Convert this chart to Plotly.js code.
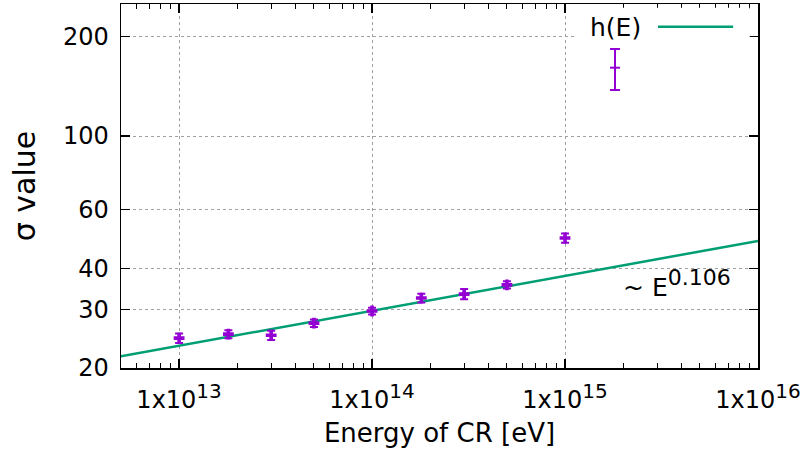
<!DOCTYPE html>
<html>
<head>
<meta charset="utf-8">
<script src="https://cdn.plot.ly/plotly-3.0.1.min.js"></script>
<style>
  html, body { margin: 0; padding: 0; background: #fff; }
  #chart { width: 809px; height: 455px; }
</style>
</head>
<body>
<div id="chart"></div>
<script>
// Measured sigma values versus cosmic-ray energy
const energy = [1e13, 1.8e13, 3e13, 5e13, 1e14, 1.8e14, 3e14, 5e14, 1e15];
const sigma  = [24.6, 25.3, 25.1, 27.3, 29.7, 32.5, 33.4, 35.6, 49.3];
const sigmaErr = [0.8, 0.7, 0.8, 0.7, 0.7, 1.0, 1.2, 0.9, 1.6];

// Power-law fit h(E) ~ E^0.106, a straight line on log-log axes
const fitEnergy = [5e12, 1e16];
const fitSigma  = [21.7, 48.3];

const sup = s => '<sup><span style="font-size:20px">' + s + '</span></sup>';
const xTickVals = [1e13, 1e14, 1e15, 1e16];
const xTickText = ['1x10' + sup('13'), '1x10' + sup('14'), '1x10' + sup('15'), '1x10' + sup('16')];
const yTickVals = [20, 30, 40, 60, 100, 200];
const yTickText = ['20', '30', '40', '60', '100', '200'];

const purple = '#9400d3';
const green = '#009e73';
const font = 'DejaVu Sans, sans-serif';

const traces = [
  {
    x: fitEnergy, y: fitSigma, type: 'scatter', mode: 'lines',
    line: { color: green, width: 2.5 }, hoverinfo: 'skip'
  },
  {
    x: energy, y: sigma, type: 'scatter', mode: 'markers',
    marker: { color: purple, symbol: 'cross', size: 9 },
    error_y: { type: 'data', array: sigmaErr, visible: true, color: purple, thickness: 2, width: 4 }
  }
];

const layout = {
  width: 809, height: 455,
  margin: { l: 121, r: 51, t: 4, b: 87 },
  paper_bgcolor: '#fff', plot_bgcolor: '#fff',
  showlegend: false,
  font: { family: font, color: '#000', size: 24 },
  xaxis: {
    type: 'log',
    range: [Math.log10(5e12), 16],
    tickmode: 'array', tickvals: xTickVals, ticktext: xTickText,
    ticks: 'inside', ticklen: 9, tickwidth: 1.2, tickcolor: '#000',
    ticklabelstandoff: 10,
    showline: true, linecolor: '#000', linewidth: 1.5, mirror: 'ticks',
    showgrid: true, gridcolor: '#a0a0a0', griddash: 'dot', gridwidth: 1,
    zeroline: false,
    minor: { dtick: 'D1', ticks: 'inside', ticklen: 5, tickwidth: 1, tickcolor: '#000', showgrid: false },
    tickfont: { family: font, size: 24 },
    title: { text: 'Energy of CR [eV]', font: { family: font, size: 26 }, standoff: 10 }
  },
  yaxis: {
    type: 'log',
    range: [Math.log10(20), Math.log10(250)],
    tickmode: 'array', tickvals: yTickVals, ticktext: yTickText,
    ticks: 'inside', ticklen: 9, tickwidth: 1.2, tickcolor: '#000',
    ticklabelstandoff: 6,
    showline: true, linecolor: '#000', linewidth: 1.5, mirror: 'ticks',
    showgrid: true, gridcolor: '#a0a0a0', griddash: 'dot', gridwidth: 1,
    zeroline: false,
    tickfont: { family: font, size: 24 },
    title: { text: 'σ value', font: { family: font, size: 30 }, standoff: 18 }
  },
  shapes: [
    // key box
    { type: 'rect', xref: 'paper', yref: 'paper', x0: 0.716, x1: 0.987, y0: 0.74, y1: 0.99,
      fillcolor: '#fff', line: { width: 0 }, layer: 'above' },
    // key sample: fit line
    { type: 'line', xref: 'paper', yref: 'paper', x0: 0.843, x1: 0.961, y0: 0.9376, y1: 0.9376,
      line: { color: green, width: 2.5 }, layer: 'above' },
    // key sample: error bar
    { type: 'line', xref: 'paper', yref: 'paper', x0: 0.7755, x1: 0.7755, y0: 0.7637, y1: 0.8764,
      line: { color: purple, width: 2 }, layer: 'above' },
    { type: 'line', xref: 'paper', yref: 'paper', x0: 0.7677, x1: 0.7833, y0: 0.8764, y1: 0.8764,
      line: { color: purple, width: 2 }, layer: 'above' },
    { type: 'line', xref: 'paper', yref: 'paper', x0: 0.7677, x1: 0.7833, y0: 0.7637, y1: 0.7637,
      line: { color: purple, width: 2 }, layer: 'above' },
    { type: 'line', xref: 'paper', yref: 'paper', x0: 0.7677, x1: 0.7833, y0: 0.825, y1: 0.825,
      line: { color: purple, width: 2 }, layer: 'above' }
  ],
  annotations: [
    { xref: 'paper', yref: 'paper', x: 0.8195, y: 0.9347, xanchor: 'right', yanchor: 'middle',
      text: 'h(E)', showarrow: false, font: { family: font, size: 25 } },
    { xref: 'paper', yref: 'paper', x: 0.785, y: 0.232, xanchor: 'left', yanchor: 'middle',
      text: '~ E<sup><span style="font-size:22px">0.106</span></sup>', showarrow: false,
      font: { family: font, size: 25 } }
  ]
};

Plotly.newPlot('chart', traces, layout, { displayModeBar: false, staticPlot: true });
</script>
</body>
</html>
